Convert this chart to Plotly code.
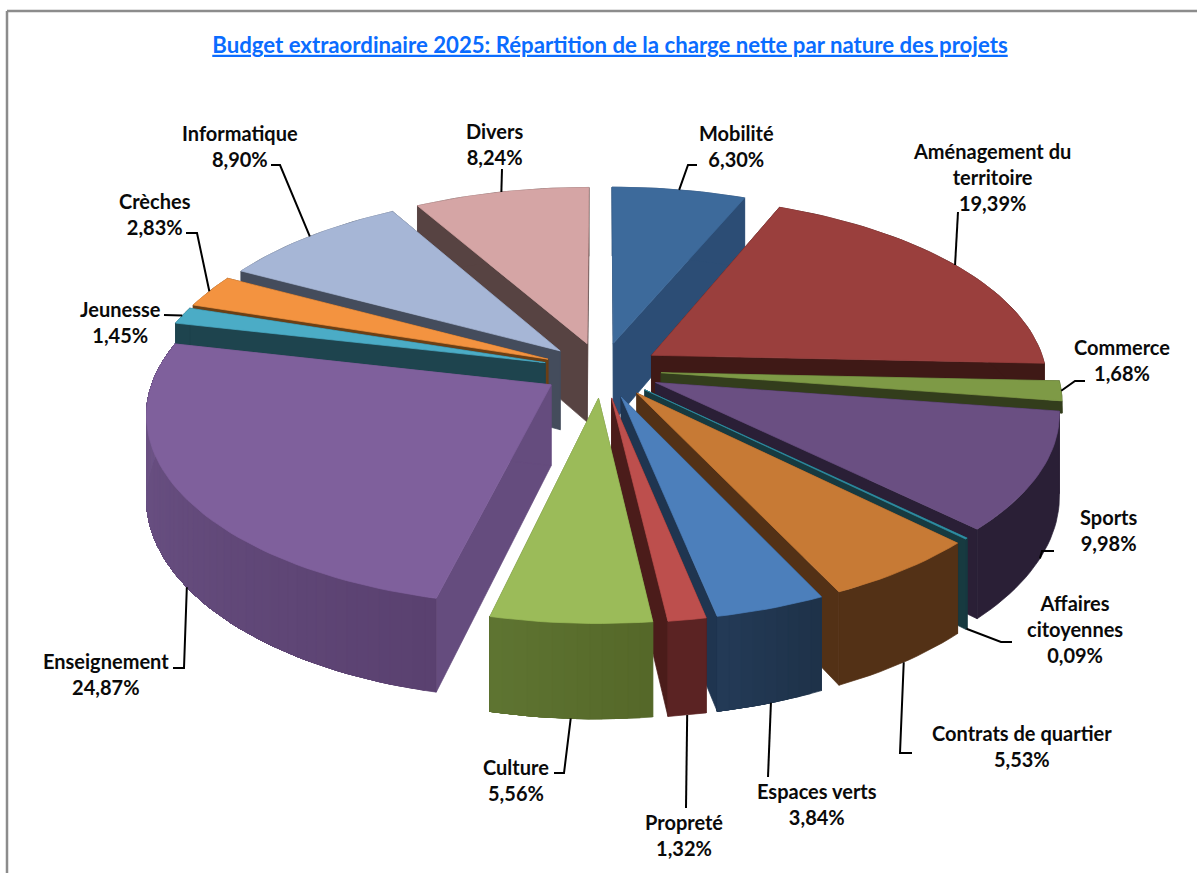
import math
import plotly.graph_objects as go

W, H = 1197, 873

categories = ["Mobilité", "Aménagement du<br>territoire", "Commerce", "Sports", "Affaires<br>citoyennes",
              "Contrats de quartier", "Espaces verts", "Propreté", "Culture", "Enseignement",
              "Jeunesse", "Crèches", "Informatique", "Divers"]
values = [6.30, 19.39, 1.68, 9.98, 0.09, 5.53, 3.84, 1.32, 5.56, 24.87, 1.45, 2.83, 8.90, 8.24]

# colours per slice: top face, cut faces, rim gradient along the sweep
top_colors = ["#3D6A9B", "#9A3F3D", "#7E9A46", "#6A4F82", "#2F8FA5", "#C77A35", "#4C7FBB",
              "#BD4F4D", "#9BBB59", "#7F609C", "#4BACC6", "#F39340", "#A6B6D6", "#D5A5A5"]
cut_colors = ["#2C4D75", "#3F1916", "#333D1C", "#2A1F36", "#173A40", "#533116", "#1F3550",
              "#4B1C1A", "#5F7532", "#654C7E", "#1E444E", "#6B3F15", "#444C5C", "#574342"]
rim_start = ["#2C4D75", "#3F1916", "#333D1C", "#2A1F36", "#173A40", "#533116", "#1E3249",
             "#5B2323", "#556829", "#5A4170", "#1E444E", "#6B3F15", "#444C5C", "#574342"]
rim_end = ["#2C4D75", "#3F1916", "#333D1C", "#2A1F36", "#173A40", "#533116", "#243B58",
           "#5B2323", "#5F7532", "#6F5689", "#1E444E", "#6B3F15", "#444C5C", "#574342"]
# Commerce's wall stays short so it doesn't poke out past Sports on the right
wall_depth = [1, 1, 0.15, 1, 1, 1, 1, 1, 1, 1, 1, 1, 1, 1]

# label centres and leader elbows (pixels); the leader's last point is computed on the slice
label_pos = [(736, 146), (992, 177), (1122, 360), (1109, 530), (1075, 629), (1022, 746), (817, 804),
             (684, 835), (516, 780), (106, 674), (120, 322), (155, 214), (240, 146), (494, 144)]
leader_elbows = [[(697, 165), (688, 165)], [(958, 212)], [(1085, 381), (1075, 381)], [(1054, 551), (1042, 551)],
                 [(1012, 642), (1001, 642)], [(912, 753), (900, 753)], [(768, 777)], [(686, 808)],
                 [(554, 773), (564, 773)], [(173, 668), (184, 668)], [(164, 315), (178, 315)],
                 [(186, 233), (197, 233)], [(271, 165), (280, 165)], [(502, 169)]]
# 0 = leader lands on the top edge of the rim, 1 = on the bottom edge
leader_depth = [0, 0, 0, 1, 1, 1, 1, 1, 1, 1, 0, 0, 0, 0]
leader_turn = [0, 0, 0, 0, 0, 0, 0, 0, 0, -2, 0, 0, 0, 0]   # degrees off the slice's middle

CX, CY = 602, 370     # pie centre
R = 395               # horizontal radius
QY = 185              # vertical radius
DEPTH = 80            # thickness
K = 0.14              # perspective strength
EXPLODE = 0.15


def project(x, y, z=0.0):
    # x right, y toward viewer, z down, in pie radii (z in thickness units)
    s = 1 / (1 - K * y)
    return CX + R * x * s, CY + QY * y * s + DEPTH * z * s


def mix(a, b, t):
    ca = [int(a[i:i + 2], 16) for i in (1, 3, 5)]
    cb = [int(b[i:i + 2], 16) for i in (1, 3, 5)]
    return "rgb(%d,%d,%d)" % tuple(round(p + (q - p) * t) for p, q in zip(ca, cb))


def polar(a, ox, oy, r=1.0):
    return ox + r * math.sin(a), oy - r * math.cos(a)


fig = go.Figure()


def add_poly(pts, color, edge=0.7):
    fig.add_scatter(x=[p[0] for p in pts] + [pts[0][0]], y=[p[1] for p in pts] + [pts[0][1]],
                    mode="lines", fill="toself", fillcolor=color, hoverinfo="skip",
                    line=dict(color=color, width=edge), showlegend=False)


total = sum(values)
slices = []
acc = 0.0
for i, v in enumerate(values):
    a0 = 2 * math.pi * acc / total
    a1 = 2 * math.pi * (acc + v) / total
    acc += v
    mid = (a0 + a1) / 2
    ox, oy = polar(mid, 0, 0, EXPLODE)
    slices.append(dict(i=i, a0=a0, a1=a1, mid=mid, ox=ox, oy=oy, depth=oy - 0.6 * math.cos(mid)))

# back to front
for sl in sorted(slices, key=lambda d: d["depth"]):
    i, a0, a1, ox, oy = sl["i"], sl["a0"], sl["a1"], sl["ox"], sl["oy"]
    d = wall_depth[i]
    n = max(2, int((a1 - a0) / math.radians(1.5)))
    angles = [a0 + (a1 - a0) * j / n for j in range(n + 1)]
    rim = [polar(a, ox, oy) for a in angles]

    # cut faces
    for a in (a0, a1):
        p = polar(a, ox, oy)
        add_poly([project(ox, oy), project(p[0], p[1]), project(p[0], p[1], d), project(ox, oy, d)], cut_colors[i])

    # rim: each gradient band runs to the end of the sweep and the next one covers it, so no seams show
    for j in range(n if rim_start[i] != rim_end[i] else 1):
        part = rim[j:]
        t = j / n if rim_start[i] != rim_end[i] else 0
        add_poly([project(*p) for p in part] + [project(p[0], p[1], d) for p in reversed(part)],
                 mix(rim_start[i], rim_end[i], t))

    # top
    add_poly([project(ox, oy)] + [project(*p) for p in rim], top_colors[i])

# leaders
for sl in slices:
    i = sl["i"]
    p = polar(sl["mid"] + math.radians(leader_turn[i]), sl["ox"], sl["oy"])
    end = project(p[0], p[1], leader_depth[i])
    pts = leader_elbows[i] + [end]
    fig.add_scatter(x=[q[0] for q in pts], y=[q[1] for q in pts], mode="lines", hoverinfo="skip",
                    line=dict(color="black", width=2), showlegend=False)

for name, v, pos in zip(categories, values, label_pos):
    fig.add_annotation(x=pos[0], y=pos[1], text="<b>%s<br>%s%%</b>" % (name, ("%.2f" % v).replace(".", ",")),
                       showarrow=False, align="center", xanchor="center", yanchor="middle",
                       font=dict(family="Lato", size=20, color="#0A0A0A"))

fig.add_shape(type="line", x0=7, x1=7, y0=11, y1=H, line=dict(color="#8C8C8C", width=2.5))
fig.add_shape(type="line", x0=7, x1=W, y0=11, y1=11, line=dict(color="#8C8C8C", width=2.5))

fig.update_layout(
    width=W, height=H, autosize=False,
    margin=dict(l=0, r=0, t=0, b=0),
    paper_bgcolor="white", plot_bgcolor="white",
    title=dict(text="<b><u>Budget extraordinaire 2025: Répartition de la charge nette par nature des projets</u></b>",
               x=610 / W, y=1 - 45 / H, xanchor="center", yanchor="middle",
               font=dict(family="Lato", size=22.2, color="#0A6CFF")),
    xaxis=dict(range=[0, W], visible=False, fixedrange=True),
    yaxis=dict(range=[H, 0], visible=False, fixedrange=True),
)

fig.write_html("out.html", config=dict(displayModeBar=False), post_script="document.body.style.margin='0';")
